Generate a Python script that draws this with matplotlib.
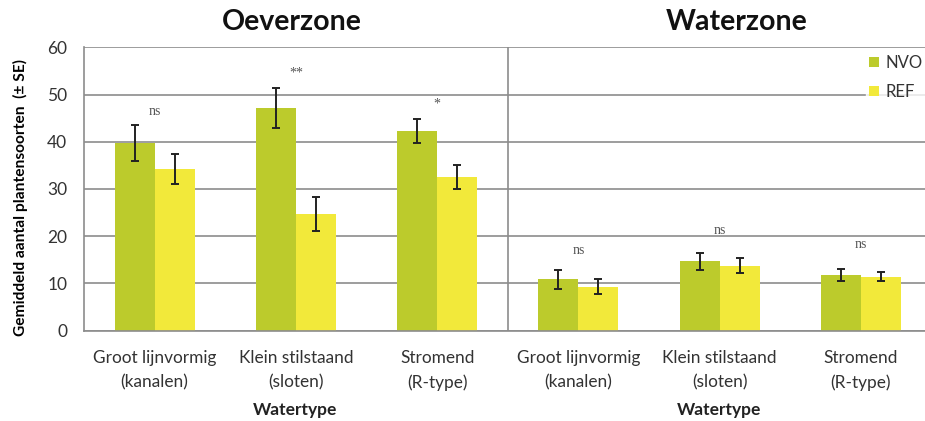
import matplotlib.pyplot as plt
import numpy as np

# watertypes, repeated for the two zones
categories = ["Groot lijnvormig\n(kanalen)", "Klein stilstaand\n(sloten)", "Stromend\n(R-type)",
              "Groot lijnvormig\n(kanalen)", "Klein stilstaand\n(sloten)", "Stromend\n(R-type)"]
nvo_mean = [39.7, 47.2, 42.3, 10.9, 14.7, 11.7]
nvo_se = [3.8, 4.2, 2.6, 2.0, 1.8, 1.3]
ref_mean = [34.2, 24.7, 32.6, 9.3, 13.7, 11.4]
ref_se = [3.2, 3.5, 2.5, 1.6, 1.6, 1.0]
sig_labels = ["ns", "**", "*", "ns", "ns", "ns"]
sig_y = [46.5, 54.6, 48.0, 16.9, 21.1, 18.3]
zones = ["Oeverzone", "Waterzone"]

plt.rcParams['font.family'] = ['Lato', 'DejaVu Sans']

fig = plt.figure(figsize=(9.25, 4.21), dpi=100)
ax = fig.add_axes([84 / 925, 1 - 330.5 / 421, 847.5 / 925, 283 / 421])

x = np.arange(len(categories))
w = 0.284
nvo_col = "#bccb2c"
ref_col = "#f2e93a"

ax.bar(x - w / 2, nvo_mean, w, color=nvo_col, label="NVO", zorder=2)
ax.bar(x + w / 2, ref_mean, w, color=ref_col, label="REF", zorder=2)
ax.errorbar(x - w / 2, nvo_mean, yerr=nvo_se, fmt="none", ecolor="#222222",
            elinewidth=1.4, capsize=3, capthick=1.4, zorder=3)
ax.errorbar(x + w / 2, ref_mean, yerr=ref_se, fmt="none", ecolor="#222222",
            elinewidth=1.4, capsize=3, capthick=1.4, zorder=3)

for xi, s, yy in zip(x, sig_labels, sig_y):
    ax.text(xi, yy, s, ha="center", va="center", fontsize=10,
            family="Liberation Serif", color="#555555")

ax.set_xlim(-0.5, 5.5)
ax.set_ylim(0, 60)
ax.set_yticks(range(0, 61, 10))
ax.set_xticks(x)
ax.set_xticklabels(categories, fontsize=12.4, color="#333333", linespacing=1.6)
ax.tick_params(axis="y", labelsize=12.5, colors="#333333", length=0, pad=12)
ax.tick_params(axis="x", length=0, pad=14)
ax.yaxis.grid(True, color="#8c8c8c", linewidth=1.2, zorder=0)
ax.set_axisbelow(True)
ax.axvline(2.5, color="#8c8c8c", linewidth=1.2, zorder=1)
for side in ["left", "bottom"]:
    ax.spines[side].set_color("#8c8c8c")
    ax.spines[side].set_linewidth(1.2)
ax.spines["right"].set_visible(False)
ax.spines["top"].set_visible(False)

ax.set_ylabel("Gemiddeld aantal plantensoorten  (± SE)", fontsize=11.2,
              fontweight="bold")
ax.yaxis.set_label_coords(-56 / 847.5, 0.47)

# zone titles and axis titles under each half
fig.text(292 / 925, 1 - 22 / 421, zones[0], ha="center", va="center",
         fontsize=20.5, fontweight="bold", color="#111111")
fig.text(737 / 925, 1 - 22 / 421, zones[1], ha="center", va="center",
         fontsize=20.5, fontweight="bold", color="#111111")
for cx in [295, 719]:
    fig.text(cx / 925, 1 - 410 / 421, "Watertype", ha="center", va="center",
             fontsize=12.5, fontweight="bold", color="#222222")

leg = fig.legend(loc="upper left", bbox_to_anchor=(866 / 925, 1 - 52 / 421),
                 frameon=True, fontsize=12, handlelength=0.55, handleheight=0.55,
                 handletextpad=0.4, labelspacing=0.75, borderpad=0.2,
                 borderaxespad=0)
leg.get_frame().set_edgecolor("white")
leg.get_frame().set_facecolor("white")
for t in leg.get_texts():
    t.set_color("#333333")

fig.savefig("out.png", dpi=100)
